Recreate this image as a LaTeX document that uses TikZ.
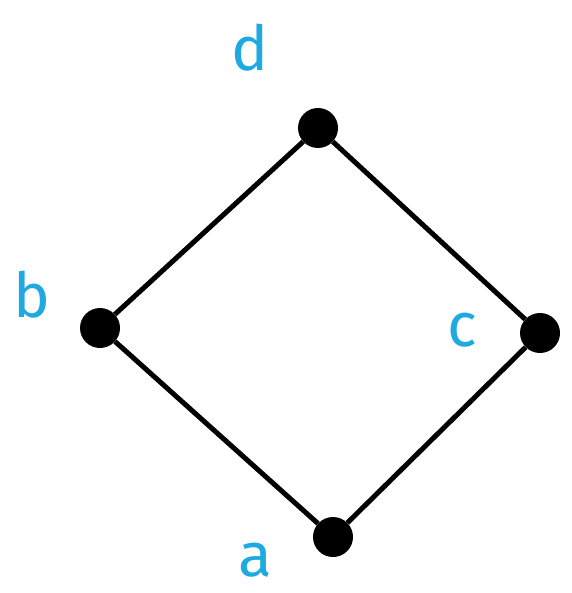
\documentclass[tikz,border=0pt]{standalone}
\usepackage{fontspec}
\setsansfont{Fira Sans}
\definecolor{lab}{RGB}{30,170,225}
\begin{document}
\begin{tikzpicture}[x=1pt,y=-1pt,
  dot/.style={circle,fill=black,inner sep=0pt,minimum size=40pt},
  edge/.style={line width=5pt,black},
  lbl/.style={text=lab,inner sep=0pt,font=\sffamily\fontsize{62}{62}\selectfont}]
\useasboundingbox (0,0) rectangle (571,593);
\node[dot] (d) at (318,128) {};
\node[dot] (b) at (100,328) {};
\node[dot] (c) at (540,333) {};
\node[dot] (a) at (333,537) {};
\draw[edge] (a) -- (b) -- (d) -- (c) -- (a);
\node[lbl] (ld) at (250,48) {d};
\node[lbl] (lb) at (32,295) {b};
\node[lbl] (lc) at (462,330) {c};
\node[lbl] (la) at (255,560) {a};
\end{tikzpicture}
\end{document}
